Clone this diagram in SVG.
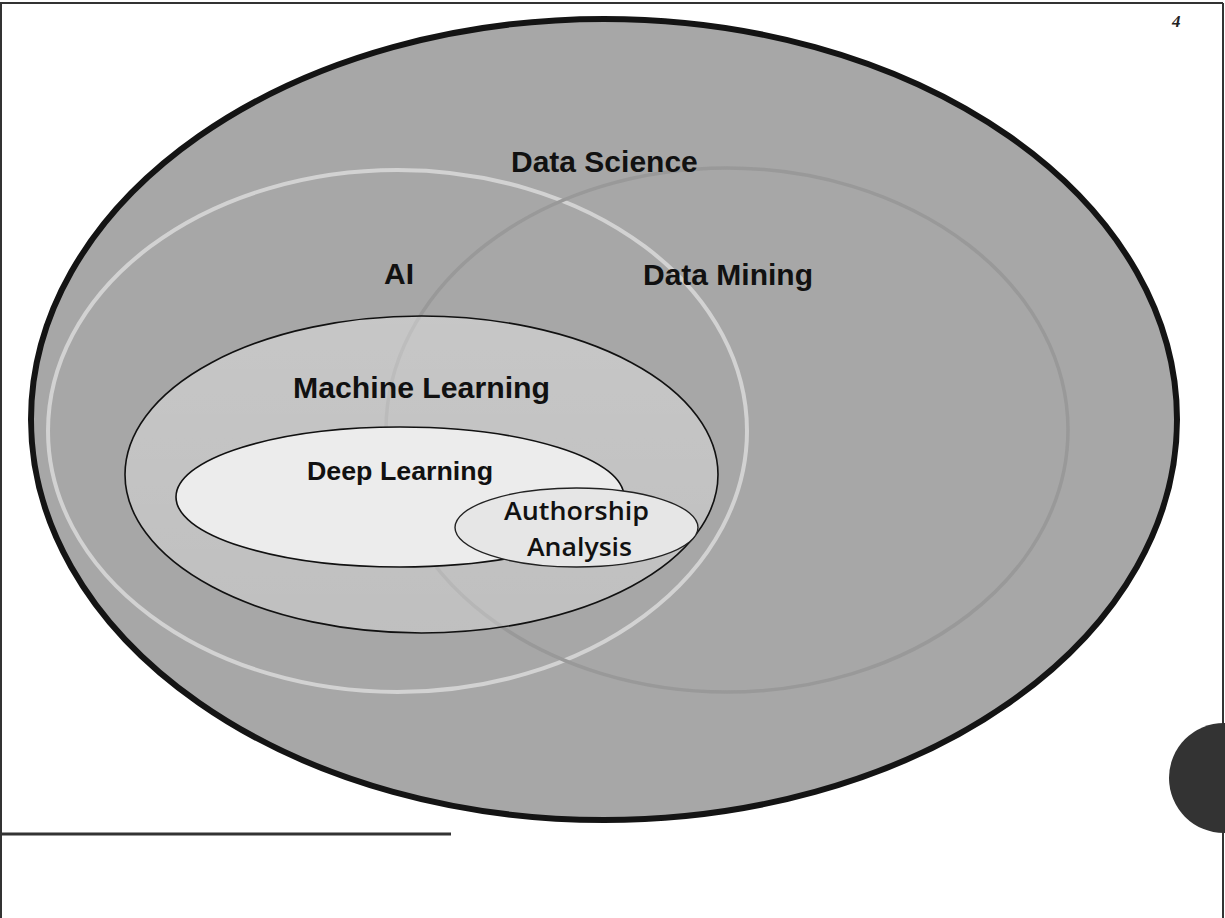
<svg xmlns="http://www.w3.org/2000/svg" width="1225" height="918" viewBox="0 0 1225 918">
<style>
.lbl{font-family:"Liberation Sans",Arial,sans-serif;font-weight:bold;fill:#111;text-anchor:start}
.lbl2{font-family:"Open Sans","Noto Sans",sans-serif;font-weight:600;fill:#111;text-anchor:middle}
.ring{fill:none}
.frame{stroke:#333;stroke-width:2;fill:none}
</style>
<defs>
<linearGradient id="mlGrad" x1="0" y1="0" x2="0" y2="1">
<stop offset="0" stop-color="#ffffff" stop-opacity="0.36"/>
<stop offset="1" stop-color="#ffffff" stop-opacity="0.28"/>
</linearGradient>
</defs>
<rect x="0" y="0" width="1225" height="918" fill="#ffffff"/>
<g id="page-frame">
<line class="frame" x1="0" y1="3" x2="1223" y2="3"/>
<line class="frame" x1="1" y1="3" x2="1" y2="918"/>
<line class="frame" x1="1223" y1="3" x2="1223" y2="918"/>
<line x1="0" y1="834" x2="451" y2="834" stroke="#333" stroke-width="3"/>
</g>
<g id="data-science">
<ellipse cx="604" cy="419.5" rx="573" ry="400.5" fill="#a7a7a7" stroke="#141414" stroke-width="6"/>
</g>
<g id="ai">
<ellipse class="ring" cx="397.5" cy="431" rx="349.5" ry="261" stroke="#d2d2d2" stroke-width="4"/>
</g>
<g id="data-mining">
<ellipse class="ring" cx="727" cy="430" rx="341" ry="262" stroke="#999999" stroke-width="3.5"/>
</g>
<g id="machine-learning">
<ellipse cx="421.5" cy="474.5" rx="296.5" ry="158.5" fill="url(#mlGrad)" stroke="#111" stroke-width="1.6"/>
<text class="lbl" x="293" y="398" font-size="29" textLength="257" lengthAdjust="spacingAndGlyphs">Machine Learning</text>
</g>
<g id="deep-learning">
<ellipse cx="400" cy="497" rx="224" ry="70" fill="#ececec" stroke="#111" stroke-width="1.6"/>
<text class="lbl" x="307" y="480" font-size="25" textLength="186" lengthAdjust="spacingAndGlyphs">Deep Learning</text>
</g>
<g id="authorship-analysis">
<ellipse cx="576.5" cy="527.5" rx="121.5" ry="39.5" fill="#e6e6e6" stroke="#222" stroke-width="1.4"/>
<text class="lbl2" x="576.5" y="520" font-size="25" textLength="145" lengthAdjust="spacingAndGlyphs">Authorship</text>
<text class="lbl2" x="579.5" y="556" font-size="25" textLength="105" lengthAdjust="spacingAndGlyphs">Analysis</text>
</g>
<g id="labels">
<text class="lbl" x="511" y="172" font-size="30">Data Science</text>
<text class="lbl" x="384" y="284" font-size="30">AI</text>
<text class="lbl" x="643" y="285" font-size="30">Data Mining</text>
</g>
<g id="corner-circle">
<circle cx="1224" cy="778" r="55" fill="#333333"/>
</g>
<g id="page-number">
<text x="1172" y="27" font-family="Liberation Serif,serif" font-style="italic" font-weight="bold" font-size="17" fill="#222">4</text>
</g>
</svg>
